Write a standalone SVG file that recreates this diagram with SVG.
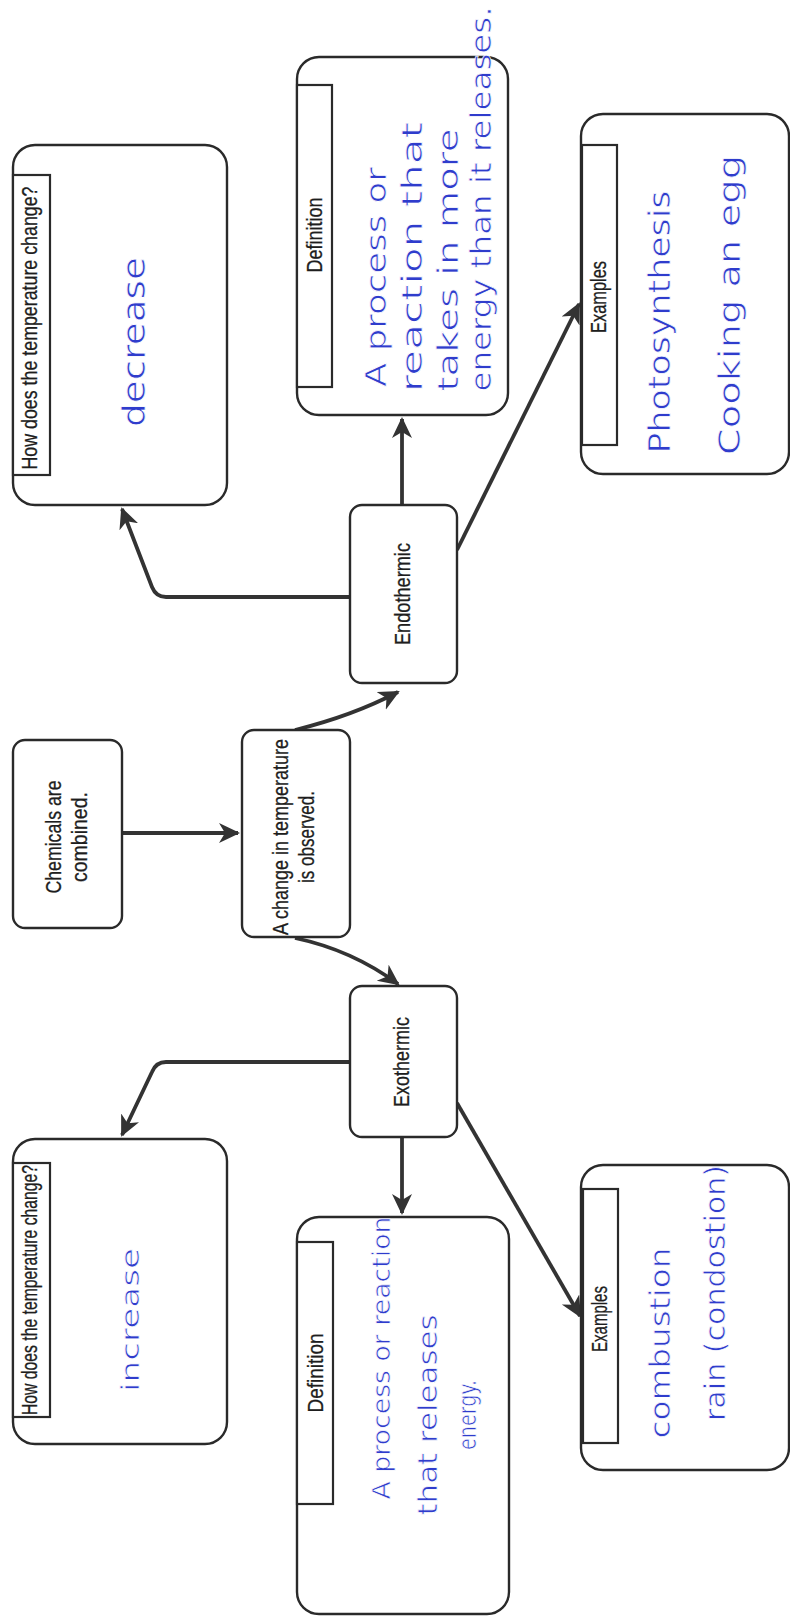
<svg xmlns="http://www.w3.org/2000/svg" width="790" height="1618" viewBox="0 0 790 1618">
<style>
.box{fill:#fff;stroke:#2a2a2a;stroke-width:2.4}
.hdr{fill:#fff;stroke:#2a2a2a;stroke-width:2.2}
.t{font-family:"Liberation Sans",Arial,sans-serif;font-size:22px;fill:#1e1e1e;stroke:#1e1e1e;stroke-width:0.3;text-anchor:middle}
.h{font-family:"DejaVu Sans","Liberation Sans",sans-serif;font-size:28px;fill:#2f3ccc;stroke:#fff;stroke-width:0.7;text-anchor:middle}
.c{fill:none;stroke:#333;stroke-width:3.8;stroke-linejoin:round}
</style>
<defs>
<marker id="ah" markerUnits="userSpaceOnUse" markerWidth="24" markerHeight="22" refX="19" refY="10" orient="auto">
<path d="M0,0 L21,10 L0,20 L6,10 z" fill="#333"/>
</marker>
</defs>
<rect width="790" height="1618" fill="#fff"/>

<g id="connectors">
<path class="c" d="M122,833 L238,833" marker-end="url(#ah)"/>
<path class="c" d="M295,730 Q352,716 398,692" marker-end="url(#ah)"/>
<path class="c" d="M295,938 Q352,950 398,984" marker-end="url(#ah)"/>
<path class="c" d="M350,597 L166,597 Q156,597 152,587 L122,509" marker-end="url(#ah)"/>
<path class="c" d="M402,505 L402,419" marker-end="url(#ah)"/>
<path class="c" d="M457,550 L579,304" marker-end="url(#ah)"/>
<path class="c" d="M350,1062 L166,1062 Q156,1062 152,1072 L122,1135" marker-end="url(#ah)"/>
<path class="c" d="M402,1137 L402,1213" marker-end="url(#ah)"/>
<path class="c" d="M457,1103 L580,1316" marker-end="url(#ah)"/>
</g>

<g id="chemicals">
<rect class="box" x="13" y="740" width="109" height="188" rx="12"/>
<text class="t" transform="translate(61,837) rotate(-90)" textLength="113" lengthAdjust="spacingAndGlyphs">Chemicals are</text>
<text class="t" transform="translate(87,837) rotate(-90)" textLength="90" lengthAdjust="spacingAndGlyphs">combined.</text>
</g>

<g id="change">
<rect class="box" x="242" y="730" width="108" height="207" rx="12"/>
<text class="t" transform="translate(288,837) rotate(-90)" textLength="196" lengthAdjust="spacingAndGlyphs">A change in temperature</text>
<text class="t" transform="translate(314,837) rotate(-90)" textLength="92" lengthAdjust="spacingAndGlyphs">is observed.</text>
</g>

<g id="endothermic">
<rect class="box" x="350" y="505" width="107" height="178" rx="12"/>
<text class="t" transform="translate(410,594) rotate(-90)" textLength="102" lengthAdjust="spacingAndGlyphs">Endothermic</text>
</g>

<g id="exothermic">
<rect class="box" x="350" y="986" width="107" height="151" rx="12"/>
<text class="t" transform="translate(409,1062) rotate(-90)" textLength="90" lengthAdjust="spacingAndGlyphs">Exothermic</text>
</g>

<g id="endo-temp">
<rect class="box" x="13" y="145" width="214" height="360" rx="22"/>
<rect class="hdr" x="13" y="175" width="37" height="300"/>
<text class="t" transform="translate(37,328) rotate(-90)" textLength="283" lengthAdjust="spacingAndGlyphs">How does the temperature change?</text>
<text class="h" transform="translate(145,342) rotate(-90)" style="font-size:32px" textLength="170" lengthAdjust="spacingAndGlyphs">decrease</text>
</g>

<g id="endo-definition">
<rect class="box" x="297" y="57" width="211" height="358" rx="22"/>
<rect class="hdr" x="297" y="85" width="35" height="302"/>
<text class="t" transform="translate(322,235) rotate(-90)" textLength="75" lengthAdjust="spacingAndGlyphs">Definition</text>
<text class="h" transform="translate(386,277) rotate(-90)" textLength="220" lengthAdjust="spacingAndGlyphs">A process or</text>
<text class="h" transform="translate(422,257) rotate(-90)" textLength="270" lengthAdjust="spacingAndGlyphs">reaction that</text>
<text class="h" transform="translate(458,260) rotate(-90)" textLength="263" lengthAdjust="spacingAndGlyphs">takes in more</text>
<text class="h" transform="translate(491,199) rotate(-90)" textLength="385" lengthAdjust="spacingAndGlyphs">energy than it releases.</text>
</g>

<g id="endo-examples">
<rect class="box" x="581" y="114" width="208" height="360" rx="22"/>
<rect class="hdr" x="582" y="145" width="35" height="300"/>
<text class="t" transform="translate(606,297) rotate(-90)" textLength="72" lengthAdjust="spacingAndGlyphs">Examples</text>
<text class="h" transform="translate(670,322) rotate(-90)" style="font-size:30px" textLength="263" lengthAdjust="spacingAndGlyphs">Photosynthesis</text>
<text class="h" transform="translate(740,305) rotate(-90)" style="font-size:30px" textLength="300" lengthAdjust="spacingAndGlyphs">Cooking an egg</text>
</g>

<g id="exo-temp">
<rect class="box" x="13" y="1139" width="214" height="305" rx="22"/>
<rect class="hdr" x="13" y="1163" width="37" height="254"/>
<text class="t" transform="translate(37,1290) rotate(-90)" textLength="250" lengthAdjust="spacingAndGlyphs">How does the temperature change?</text>
<text class="h" transform="translate(139,1320) rotate(-90)" style="font-size:25px" textLength="144" lengthAdjust="spacingAndGlyphs">increase</text>
</g>

<g id="exo-definition">
<rect class="box" x="297" y="1217" width="212" height="397" rx="22"/>
<rect class="hdr" x="297" y="1242" width="36" height="262"/>
<text class="t" transform="translate(323,1373) rotate(-90)" textLength="79" lengthAdjust="spacingAndGlyphs">Definition</text>
<text class="h" transform="translate(390,1358) rotate(-90)" style="font-size:25px" textLength="283" lengthAdjust="spacingAndGlyphs">A process or reaction</text>
<text class="h" transform="translate(437,1415) rotate(-90)" style="font-size:26px" textLength="201" lengthAdjust="spacingAndGlyphs">that releases</text>
<text class="h" transform="translate(476,1415) rotate(-90)" style="font-size:24px" textLength="70" lengthAdjust="spacingAndGlyphs">energy.</text>
</g>

<g id="exo-examples">
<rect class="box" x="581" y="1165" width="208" height="305" rx="22"/>
<rect class="hdr" x="583" y="1189" width="35" height="254"/>
<text class="t" transform="translate(607,1319) rotate(-90)" textLength="66" lengthAdjust="spacingAndGlyphs">Examples</text>
<text class="h" transform="translate(670,1343) rotate(-90)" textLength="191" lengthAdjust="spacingAndGlyphs">combustion</text>
<text class="h" transform="translate(725,1293) rotate(-90)" textLength="256" lengthAdjust="spacingAndGlyphs">rain (condostion)</text>
</g>
</svg>
